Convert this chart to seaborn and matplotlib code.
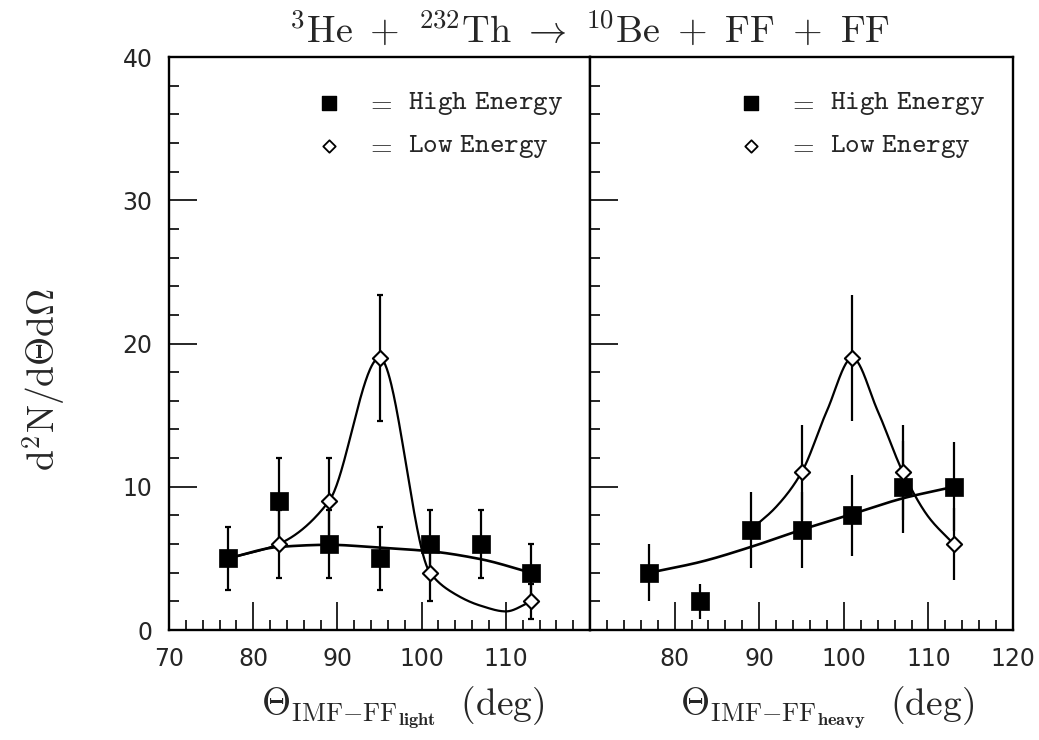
import numpy as np
import pandas as pd
import matplotlib
matplotlib.use("Agg")
import matplotlib.pyplot as plt
from matplotlib.ticker import MultipleLocator
import seaborn as sns

left_high_x = [77, 83, 89, 95, 101, 107, 113]
left_high_y = [5, 9, 6, 5, 6, 6, 4]
left_high_err = [2.2, 3.0, 2.4, 2.2, 2.4, 2.4, 2.0]

left_low_x = [83, 89, 95, 101, 113]
left_low_y = [6, 9, 19, 4, 2]
left_low_err = [2.4, 3.0, 4.4, 2.0, 1.2]

right_high_x = [77, 83, 89, 95, 101, 107, 113]
right_high_y = [4, 2, 7, 7, 8, 10, 10]
right_high_err = [2.0, 1.2, 2.65, 2.65, 2.8, 3.2, 3.1]

right_low_x = [95, 101, 107, 113]
right_low_y = [11, 19, 11, 6]
right_low_err = [3.3, 4.4, 3.3, 2.5]

# smooth fit curves, knots
left_high_fit_x = [77, 83, 89, 95, 101, 107, 113]
left_high_fit_y = [5, 5.8, 5.95, 5.75, 5.5, 4.95, 4.0]
left_low_fit_x = [77, 83, 89, 95, 101, 104, 107, 110, 113]
left_low_fit_y = [5, 6, 9, 19, 4, 2.5, 1.7, 1.3, 2]
right_high_fit_x = [77, 83, 89, 95, 101, 107, 113]
right_high_fit_y = [4, 4.75, 5.8, 7, 8.1, 9.2, 10]
right_low_fit_x = [89, 92, 95, 98, 101, 104, 107, 110, 113]
right_low_fit_y = [7, 8.6, 11, 15.3, 19, 15.3, 11, 7.9, 6]

x_ticks_left = [70, 80, 90, 100, 110]
x_ticks_right = [80, 90, 100, 110, 120]
y_ticks = [0, 10, 20, 30, 40]


def pchip(x, y, n=400):
    # monotone cubic through the knots, only used to draw the smooth line
    x = np.asarray(x, float)
    y = np.asarray(y, float)
    h = np.diff(x)
    delta = np.diff(y) / h
    d = np.zeros_like(y)
    for k in range(1, len(x) - 1):
        if delta[k - 1] * delta[k] > 0:
            w1 = 2 * h[k] + h[k - 1]
            w2 = h[k] + 2 * h[k - 1]
            d[k] = (w1 + w2) / (w1 / delta[k - 1] + w2 / delta[k])
    d[0] = delta[0]
    d[-1] = delta[-1]
    xs = np.linspace(x[0], x[-1], n)
    i = np.clip(np.searchsorted(x, xs) - 1, 0, len(x) - 2)
    t = (xs - x[i]) / h[i]
    h00 = 2 * t**3 - 3 * t**2 + 1
    h10 = t**3 - 2 * t**2 + t
    h01 = -2 * t**3 + 3 * t**2
    h11 = t**3 - t**2
    ys = h00 * y[i] + h10 * h[i] * d[i] + h01 * y[i + 1] + h11 * h[i] * d[i + 1]
    return pd.DataFrame({"x": xs, "y": ys})


sns.set_style("ticks")
plt.rcParams["mathtext.fontset"] = "cm"
plt.rcParams["font.family"] = ["DejaVu Sans"]

fig = plt.figure(figsize=(10.39, 7.40), dpi=100)
ax1 = fig.add_axes([0.1627, 0.1486, 0.4052, 0.7743])
ax2 = fig.add_axes([0.5679, 0.1486, 0.4071, 0.7743])

panels = [
    (ax1, left_high_x, left_high_y, left_high_err, left_low_x, left_low_y, left_low_err,
     left_high_fit_x, left_high_fit_y, left_low_fit_x, left_low_fit_y, 2.5, x_ticks_left,
     r"$\Theta_{\mathrm{IMF{-}FF}_{\mathbf{light}}}\ \ \mathrm{(deg)}$", 0.555),
    (ax2, right_high_x, right_high_y, right_high_err, right_low_x, right_low_y, right_low_err,
     right_high_fit_x, right_high_fit_y, right_low_fit_x, right_low_fit_y, 0, x_ticks_right,
     r"$\Theta_{\mathrm{IMF{-}FF}_{\mathbf{heavy}}}\ \ \mathrm{(deg)}$", 0.56),
]

for (ax, hx, hy, he, lx, ly, le, hfx, hfy, lfx, lfy, cap, xt, xlab, xlab_pos) in panels:
    # fit curves
    sns.lineplot(data=pchip(hfx, hfy), x="x", y="y", ax=ax, color="black", lw=1.9, zorder=2)
    sns.lineplot(data=pchip(lfx, lfy), x="x", y="y", ax=ax, color="black", lw=1.6, zorder=2)
    # error bars
    ax.errorbar(hx, hy, yerr=he, fmt="none", ecolor="black", elinewidth=1.6,
                capsize=cap, capthick=1.6, zorder=3)
    ax.errorbar(lx, ly, yerr=le, fmt="none", ecolor="black", elinewidth=1.6,
                capsize=cap, capthick=1.6, zorder=3)
    # markers
    sns.scatterplot(x=hx, y=hy, ax=ax, marker="s", s=170, color="black",
                    edgecolor="black", linewidth=0.5, zorder=4)
    sns.scatterplot(x=lx, y=ly, ax=ax, marker="D", s=60, facecolor="white",
                    edgecolor="black", linewidth=1.5, zorder=5)

    ax.set_xlim(70, 120)
    ax.set_ylim(0, 40)
    ax.xaxis.set_major_locator(MultipleLocator(10))
    ax.xaxis.set_minor_locator(MultipleLocator(2))
    ax.yaxis.set_major_locator(MultipleLocator(10))
    ax.yaxis.set_minor_locator(MultipleLocator(2))
    ax.set_xticks(xt)
    ax.tick_params(which="major", direction="in", length=20, width=1.4,
                   labelsize=17, top=False, right=False)
    ax.tick_params(which="minor", direction="in", length=7, width=1.4,
                   top=False, right=False)
    ax.tick_params(axis="x", pad=12)
    ax.tick_params(axis="y", pad=12)
    ax.set_xlabel(xlab, fontsize=27)
    ax.xaxis.set_label_coords(xlab_pos, -0.095)
    ax.set_ylabel("")
    for sp in ax.spines.values():
        sp.set_visible(True)
        sp.set_linewidth(1.7)
        sp.set_color("black")

    # legend drawn by hand like the original
    ax.scatter([0.38], [0.92], transform=ax.transAxes, marker="s", s=110, color="black",
               clip_on=False, zorder=6)
    ax.scatter([0.38], [0.845], transform=ax.transAxes, marker="D", s=40, facecolor="white",
               edgecolor="black", linewidth=1.3, clip_on=False, zorder=6)
    for yy, lab in [(0.92, r"$\mathtt{High\ Energy}$"), (0.845, r"$\mathtt{Low\ Energy}$")]:
        ax.text(0.50, yy, r"$\mathtt{=}$", transform=ax.transAxes, fontsize=20,
                ha="center", va="center")
        ax.text(0.568, yy, lab, transform=ax.transAxes, fontsize=20, ha="left", va="center")

ax1.set_yticks(y_ticks)
ax2.tick_params(axis="y", labelleft=False)

fig.text(0.567, 0.958,
         r"$^{3}\mathrm{He}\ +\ ^{232}\mathrm{Th}\ \rightarrow\ ^{10}\mathrm{Be}\ +\ \mathrm{FF}\ +\ \mathrm{FF}$",
         ha="center", va="center", fontsize=27.5)
fig.text(0.043, 0.487, r"$\mathrm{d^{2}N/d\Theta d\Omega}$", rotation=90,
         ha="center", va="center", fontsize=27)

fig.savefig("out.png", dpi=100)
